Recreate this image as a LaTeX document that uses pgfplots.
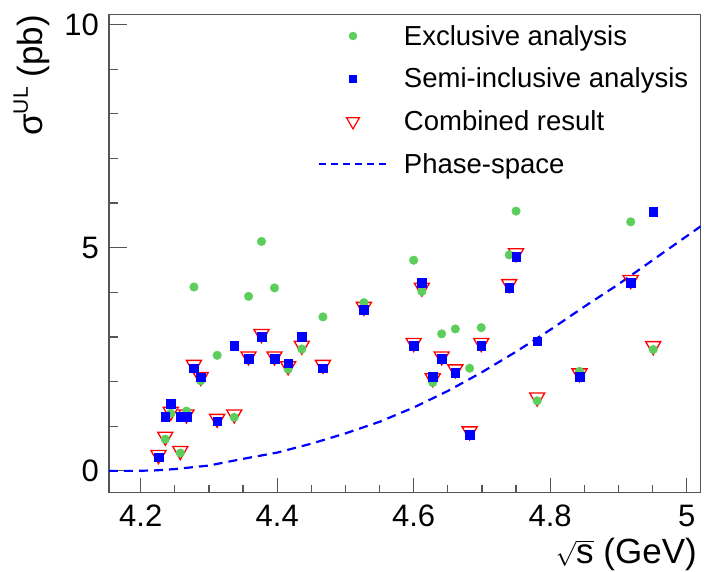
\documentclass[border=0pt]{standalone}
\usepackage{fontspec}
\setmainfont{Liberation Sans}
\usepackage{pgfplots}
\pgfplotsset{compat=1.18}
\definecolor{exgreen}{RGB}{92,206,92}
\definecolor{framegray}{RGB}{85,85,85}
\pgfplotsset{mylegimg/.style={legend image code/.code={\path (0pt,0pt) (68pt,0pt); \draw[mark repeat=2,mark phase=2,##1] plot coordinates {(0pt,0pt) (34pt,0pt) (68pt,0pt)};}}}

\pgfplotstableread{
x y
4.236 0.71
4.244 1.29
4.258 0.40
4.267 1.34
4.278 4.12
4.288 2.02
4.312 2.59
4.337 1.20
4.358 3.91
4.377 5.14
4.396 4.10
4.416 2.28
4.436 2.73
4.467 3.45
4.527 3.77
4.600 4.72
4.612 4.02
4.628 1.98
4.641 3.07
4.661 3.18
4.682 2.30
4.699 3.21
4.740 4.84
4.750 5.82
4.781 1.57
4.843 2.23
4.918 5.58
4.951 2.72
}\exclusive

\pgfplotstableread{
x y
4.226 0.31
4.236 1.22
4.244 1.51
4.258 1.22
4.267 1.22
4.278 2.30
4.288 2.10
4.312 1.11
4.337 2.80
4.358 2.51
4.377 3.00
4.396 2.51
4.416 2.41
4.436 3.00
4.467 2.30
4.527 3.61
4.600 2.80
4.612 4.21
4.628 2.11
4.641 2.51
4.661 2.20
4.682 0.81
4.699 2.80
4.740 4.11
4.750 4.80
4.781 2.91
4.843 2.11
4.918 4.21
4.951 5.81
}\semiinclusive

\pgfplotstableread{
x y
4.226 0.32
4.236 0.73
4.244 1.29
4.258 0.41
4.267 1.23
4.278 2.34
4.288 2.07
4.312 1.13
4.337 1.23
4.358 2.53
4.377 3.03
4.396 2.53
4.416 2.31
4.436 2.77
4.467 2.34
4.527 3.64
4.600 2.83
4.612 4.07
4.628 2.04
4.641 2.53
4.661 2.24
4.682 0.85
4.699 2.83
4.740 4.15
4.750 4.84
4.781 1.61
4.843 2.15
4.918 4.24
4.951 2.76
}\combined

\pgfplotstableread{
x y
4.1535 0.00
4.19 0.00
4.22 0.01
4.25 0.04
4.30 0.12
4.35 0.27
4.40 0.41
4.45 0.61
4.50 0.84
4.55 1.10
4.60 1.42
4.65 1.79
4.70 2.21
4.75 2.67
4.80 3.16
4.85 3.68
4.90 4.18
4.95 4.72
5.0206 5.48
}\phasespace

\begin{document}
\begin{tikzpicture}
\begin{axis}[
  at={(0pt,0pt)}, anchor=south west,
  scale only axis, width=591.7pt, height=478pt,
  xmin=4.1535, xmax=5.0206, ymin=-0.48, ymax=10.23,
  xtick={4.2,4.4,4.6,4.8,5}, xticklabels={4.2,4.4,4.6,4.8,5},
  ytick={0,5,10}, yticklabels={0,5,10},
  minor x tick num=3, minor y tick num=4,
  tick align=inside, tick pos=left,
  major tick length=17.7pt, minor tick length=8.9pt,
  xtick style={/pgfplots/major tick length=14.3pt, /pgfplots/minor tick length=7.2pt},
  tick style={draw=framegray, line width=1.2pt},
  axis line style={draw=framegray, line width=1.2pt},
  xticklabel style={font=\fontsize{31}{37}\selectfont, inner sep=0pt, yshift=-12.7pt},
  yticklabel style={font=\fontsize{31}{37}\selectfont, inner sep=0pt, xshift=-10pt},
  legend style={at={(0.3532,0.9818)}, anchor=north west, draw=none, fill=none,
    inner sep=0pt, outer sep=0pt, row sep=16.7pt, column sep=16pt,
    font=\fontsize{27.5}{33}\selectfont,
    nodes={inner sep=0pt, text height=22pt, text depth=4pt}},
  legend cell align=left,
]
\addlegendimage{only marks, mark=*, mark size=4pt, color=exgreen, mark options={draw=exgreen, fill=exgreen}, mylegimg}
\addlegendentry{Exclusive analysis}
\addlegendimage{only marks, mark=square*, mark size=3.7pt, color=blue, mark options={draw=blue, fill=blue}, mylegimg}
\addlegendentry{Semi-inclusive analysis}
\addlegendimage{only marks, mark=triangle, mark size=7.5pt, color=red, mark options={draw=red, line width=1.2pt, rotate=180}, mylegimg}
\addlegendentry{Combined result}
\addlegendimage{blue, line width=2pt, dash pattern=on 7pt off 5pt, mylegimg}
\addlegendentry{Phase-space}

\addplot[forget plot, blue, line width=2.2pt, dash pattern=on 9pt off 6pt] table[x=x,y=y] {\phasespace};
\addplot[forget plot, only marks, mark=triangle, mark size=8.7pt, red, mark options={draw=red, line width=1.3pt, yshift=1.7pt, rotate=180}] table[x=x,y=y] {\combined};
\addplot[forget plot, only marks, mark=*, mark size=4.3pt, exgreen, mark options={draw=exgreen, fill=exgreen}] table[x=x,y=y] {\exclusive};
\addplot[forget plot, only marks, mark=square*, mark size=4.3pt, blue, mark options={draw=blue, fill=blue}] table[x=x,y=y] {\semiinclusive};
\end{axis}
\node[anchor=base east, inner sep=0pt, font=\fontsize{35}{42}\selectfont] at (588pt,-71.5pt) {$\sqrt{\mbox{s}}$ (GeV)};
\node[rotate=90, anchor=base east, inner sep=0pt, font=\fontsize{35}{42}\selectfont] at (-66pt,477.3pt) {σ\raisebox{15pt}{\fontsize{21}{21}\selectfont UL} (pb)};
\pgfresetboundingbox
\useasboundingbox (-109pt,-78.7pt) rectangle (597pt,492.3pt);
\end{tikzpicture}
\end{document}
